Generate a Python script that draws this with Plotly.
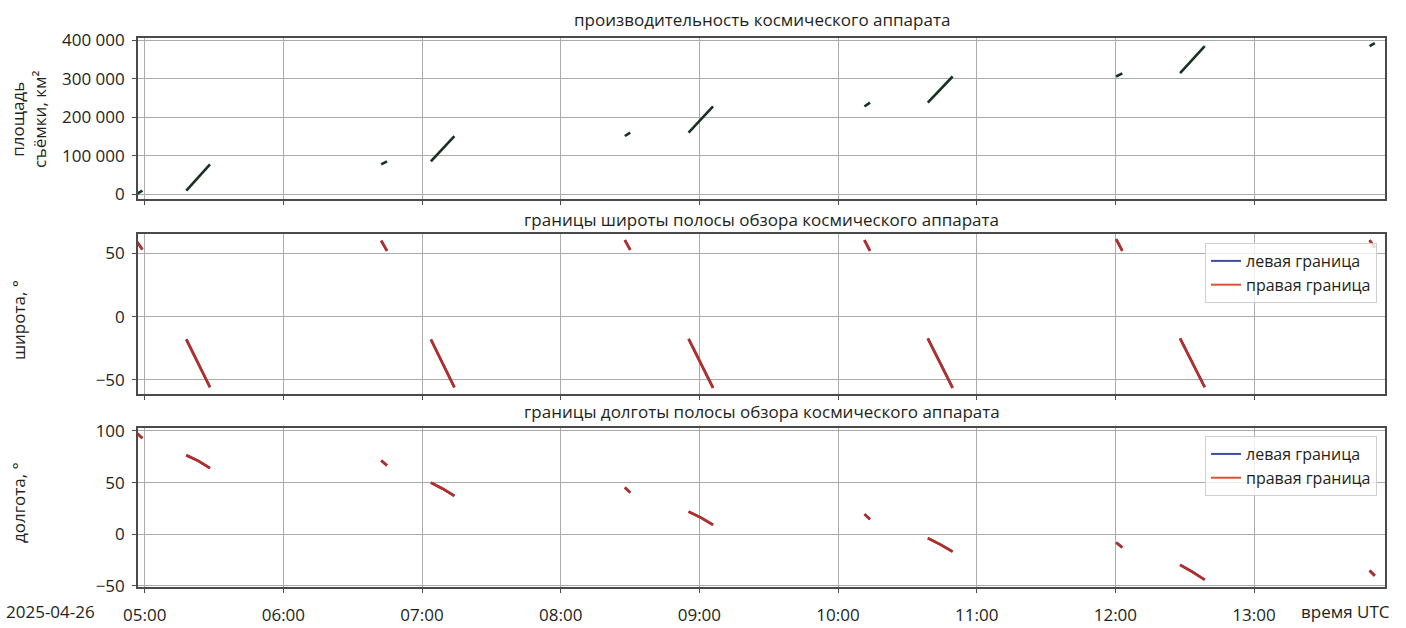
import plotly.graph_objects as go
from plotly.subplots import make_subplots

DAY = "2025-04-26 "

# time points of the imaging segments (None = gap between segments)
time_pts = [
    "04:56:30", "04:59:00", None,
    "05:18:00", "05:23:10", "05:28:15", None,
    "06:42:20", "06:44:50", None,
    "07:03:50", "07:08:55", "07:14:00", None,
    "08:27:45", "08:30:05", None,
    "08:55:20", "09:00:40", "09:05:55", None,
    "10:11:25", "10:13:50", None,
    "10:38:50", "10:44:10", "10:49:35", None,
    "12:00:20", "12:03:00", None,
    "12:28:00", "12:33:20", "12:38:40", None,
    "13:50:00", "13:52:15",
]

# cumulative imaged area, km^2
area_km2 = [
    0, 9000, None,
    9000, 44000, 77000, None,
    77000, 85000, None,
    85000, 119000, 151000, None,
    151000, 160000, None,
    160000, 195000, 228000, None,
    228000, 238000, None,
    238000, 273000, 306000, None,
    306000, 314000, None,
    315000, 351000, 385000, None,
    385000, 393000,
]

# swath latitude bounds, degrees
lat_right = [
    59.5, 53.0, None,
    -17.9, -36.8, -55.7, None,
    60.0, 52.0, None,
    -18.0, -36.9, -55.8, None,
    60.4, 52.8, None,
    -17.5, -36.9, -56.2, None,
    60.4, 52.0, None,
    -17.2, -36.7, -56.2, None,
    61.2, 52.0, None,
    -17.2, -36.5, -55.7, None,
    60.4, 54.6,
]
lat_left = [
    59.5, 53.0, None,
    -17.9, -36.8, -55.7, None,
    60.0, 52.0, None,
    -18.0, -36.9, -55.8, None,
    60.4, 52.8, None,
    -17.5, -36.9, -56.2, None,
    60.4, 52.0, None,
    -17.2, -36.7, -56.2, None,
    61.2, 52.0, None,
    -17.2, -36.5, -55.7, None,
    60.4, 54.6,
]

# swath longitude bounds, degrees
lon_right = [
    98.0, 93.0, None,
    76.5, 71.0, 64.0, None,
    71.3, 66.5, None,
    50.0, 44.0, 37.1, None,
    45.2, 40.3, None,
    21.9, 16.0, 9.0, None,
    19.4, 14.5, None,
    -3.9, -9.8, -16.8, None,
    -8.0, -12.9, None,
    -29.7, -36.5, -44.2, None,
    -35.2, -40.3,
]
lon_left = [
    98.0, 93.0, None,
    76.5, 71.0, 64.0, None,
    71.3, 66.5, None,
    50.0, 44.0, 37.1, None,
    45.2, 40.3, None,
    21.9, 16.0, 9.0, None,
    19.4, 14.5, None,
    -3.9, -9.8, -16.8, None,
    -8.0, -12.9, None,
    -29.7, -36.5, -44.2, None,
    -35.2, -40.3,
]

area_ticks = [0, 100000, 200000, 300000, 400000]
area_ticktext = ["0", "100 000", "200 000", "300 000", "400 000"]
lat_ticks = [-50, 0, 50]
lat_ticktext = ["\u221250", "0", "50"]
lon_ticks = [-50, 0, 50, 100]
lon_ticktext = ["\u221250", "0", "50", "100"]

times = [DAY + t if t is not None else None for t in time_pts]

FONT = "Open Sans"
TXT = "#231f20"
BLUE = "#3d4d9e"
RED = "#b92e24"
RED_LEG = "#d9533a"
GREEN = "#173222"

fig = make_subplots(rows=3, cols=1, shared_xaxes=True)

fig.add_trace(go.Scatter(x=times, y=area_km2, mode="lines", connectgaps=False,
                         line=dict(color=GREEN, width=2.6), showlegend=False),
              row=1, col=1)

for row, left, right, leg in [(2, lat_left, lat_right, "legend"),
                              (3, lon_left, lon_right, "legend2")]:
    fig.add_trace(go.Scatter(x=times, y=left, mode="lines", connectgaps=False,
                             line=dict(color=BLUE, width=2.6), showlegend=False),
                  row=row, col=1)
    fig.add_trace(go.Scatter(x=times, y=right, mode="lines", connectgaps=False,
                             line=dict(color=RED, width=2.6), showlegend=False),
                  row=row, col=1)
    # legend entries
    fig.add_trace(go.Scatter(x=[None], y=[None], mode="lines", name="левая граница",
                             line=dict(color=BLUE, width=2), legend=leg),
                  row=row, col=1)
    fig.add_trace(go.Scatter(x=[None], y=[None], mode="lines", name="правая граница",
                             line=dict(color=RED_LEG, width=2), legend=leg),
                  row=row, col=1)

xrange = [DAY + "04:57:06", DAY + "13:56:40"]
axis_common = dict(showline=True, mirror=True, linecolor="#4a4a4a", linewidth=1.6,
                   showgrid=True, gridcolor="#ababab", gridwidth=1,
                   ticks="outside", ticklen=4, tickcolor="#4a4a4a", tickwidth=1,
                   zeroline=False, automargin=False,
                   tickfont=dict(family=FONT, size=17, color=TXT))

for i, dom in zip([1, 2, 3], [[0.7062, 1.0], [0.3510, 0.6424], [0.0, 0.2891]]):
    fig.update_xaxes(axis_common, range=xrange, type="date", dtick=3600000,
                     tick0=DAY + "05:00", tickformat="%H:%M",
                     row=i, col=1)
    fig.update_yaxes(axis_common, domain=dom, ticklabelstandoff=4, row=i, col=1)

fig.update_xaxes(ticklabelstandoff=8, row=3, col=1)
fig.update_yaxes(range=[-13800, 406300], tickvals=area_ticks, ticktext=area_ticktext, row=1, col=1)
fig.update_yaxes(range=[-61.3, 65], tickvals=lat_ticks, ticktext=lat_ticktext, row=2, col=1)
fig.update_yaxes(range=[-51.2, 102.6], tickvals=lon_ticks, ticktext=lon_ticktext, row=3, col=1)

leg_common = dict(bgcolor="rgba(255,255,255,0.8)", bordercolor="#cfcfcf", borderwidth=1,
                  font=dict(family=FONT, size=16, color=TXT), xanchor="right", yanchor="top",
                  x=0.9936, itemwidth=30, tracegroupgap=0)

ann_font = dict(family=FONT, size=17, color=TXT)
annotations = [
    dict(text="производительность космического аппарата", x=0.5, y=1.0328),
    dict(text="границы широты полосы обзора космического аппарата", x=0.5, y=0.6685),
    dict(text="границы долготы полосы обзора космического аппарата", x=0.5, y=0.3188),
    dict(text="площадь<br>съёмки, км²", x=-0.0882, y=0.8506, textangle=-90),
    dict(text="широта, °", x=-0.0962, y=0.4863, textangle=-90),
    dict(text="долгота, °", x=-0.0962, y=0.153, textangle=-90),
    dict(text="2025-04-26", x=-0.0698, y=-0.0455),
    dict(text="время UTC", x=0.968, y=-0.0455),
]
for a in annotations:
    a.update(xref="paper", yref="paper", showarrow=False, xanchor="center",
             yanchor="middle", font=ann_font)

fig.update_layout(
    width=1406, height=628,
    margin=dict(l=138, r=21, t=38, b=41),
    paper_bgcolor="white", plot_bgcolor="white",
    font=dict(family=FONT, size=17, color=TXT),
    legend=dict(leg_common, y=0.6266),
    legend2=dict(leg_common, y=0.275),
    annotations=annotations,
)

fig.write_html("out.html")
